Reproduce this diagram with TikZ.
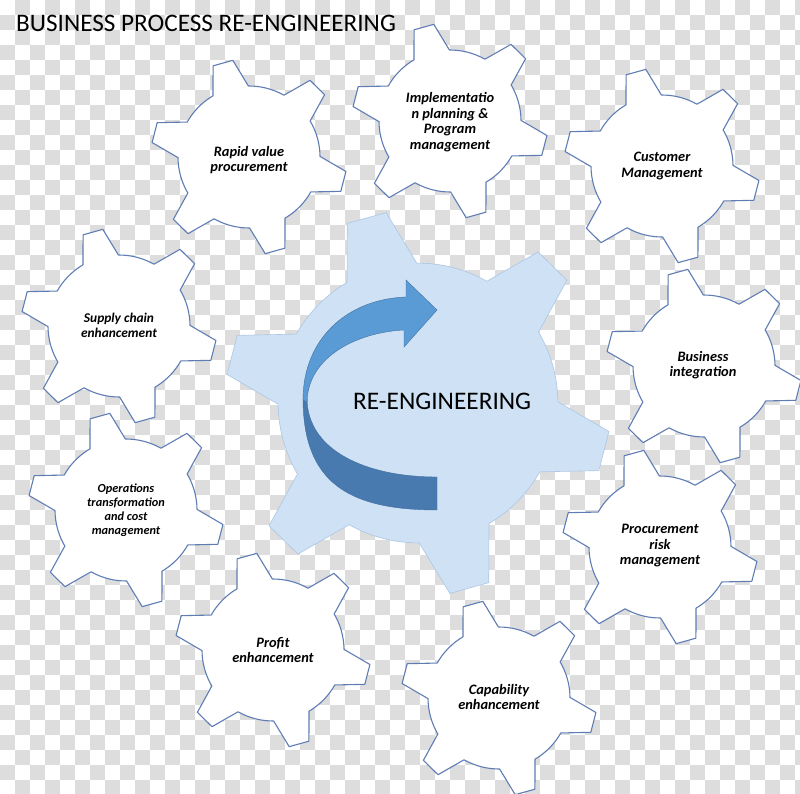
\documentclass[tikz,border=0pt]{standalone}
\usepackage{fontspec}
\setmainfont{Carlito}
\definecolor{chk}{RGB}{221,221,221}
\definecolor{gearline}{RGB}{95,125,180}
\definecolor{cogfill}{RGB}{207,225,244}
\definecolor{cogline}{RGB}{172,198,228}
\definecolor{arrowlight}{RGB}{91,155,213}
\definecolor{arrowdark}{RGB}{72,122,176}
\definecolor{arrowline}{RGB}{65,113,160}
\tikzset{
  pics/cog/.style={code={
    \path[pic actions] (90.5:71)
      \foreach \a in {105.5,165.5,225.5,285.5,345.5,405.5}{
        -- (\a-6:98) -- (\a+6:98) -- (\a+15:71)
        arc[start angle=\a+15, end angle=\a+45, radius=71]
      } -- cycle;
  }},
  smallcog/.style={draw=gearline, fill=white, line width=1.1pt, line join=round},
  bigcog/.style={draw=cogline, fill=cogfill, line width=0.6pt, scale=1.97},
  cogtext/.style={align=center, inner sep=0pt, font=\bfseries\itshape\fontsize{14.4}{15.5}\selectfont},
}
\begin{document}
\begin{tikzpicture}[x=1pt,y=1pt]
\useasboundingbox (0,-794) rectangle (800,0);
% transparent-background checkerboard
\begin{scope}
  \clip (0,-794) rectangle (800,0);
  \fill[white] (0,-794) rectangle (800,0);
  \foreach \i in {0,...,53}{
    \foreach \j in {0,...,52}{
      \pgfmathtruncatemacro\odd{mod(\i+\j,2)}
      \ifnum\odd=1 \fill[chk] (15*\i,-15*\j) rectangle ++(15,-15); \fi
    }
  }
\end{scope}
% central gear
\pic[bigcog] (cog0) at (418,-403) {cog};
% arrow
\fill[arrowdark, draw=arrowline, line width=0.4pt]
  (303,-398) .. controls (303,-480) and (345,-510) .. (437,-510)
  -- (437,-477) .. controls (365,-477) and (307,-450) .. (307,-398) -- cycle;
\fill[arrowlight, draw=arrowline, line width=0.4pt]
  (303,-400) .. controls (303,-338) and (348,-299) .. (406,-297)
  -- (406,-280) -- (437,-310) -- (404,-347) -- (404,-330)
  .. controls (360,-332) and (308,-355) .. (307,-402) -- cycle;
% small gears
\pic[smallcog] (cog1) at (249,-157) {cog};
\pic[smallcog] (cog2) at (450,-121) {cog};
\pic[smallcog] (cog3) at (662,-166) {cog};
\pic[smallcog] (cog4) at (119,-326) {cog};
\pic[smallcog] (cog5) at (704,-366) {cog};
\pic[smallcog] (cog6) at (126,-510) {cog};
\pic[smallcog] (cog7) at (660,-547) {cog};
\pic[smallcog] (cog8) at (273,-650) {cog};
\pic[smallcog] (cog9) at (499,-698) {cog};
% texts
\node[anchor=base west, inner sep=0pt, font=\fontsize{25.2}{30}\selectfont] (title) at (16,-32) {BUSINESS PROCESS RE-ENGINEERING};
\node[anchor=base west, inner sep=0pt, font=\fontsize{25.3}{28}\selectfont] (reeng) at (353,-409) {RE-ENGINEERING};
\node[cogtext] (rapid) at (249,-160) {Rapid value\\procurement};
\node[cogtext] (impl) at (450,-122) {Implementatio\\n planning \&\\Program\\management};
\node[cogtext] (cust) at (662,-166) {Customer\\Management};
\node[cogtext, font=\bfseries\itshape\fontsize{13.4}{15}\selectfont] (supply) at (119,-325) {Supply chain\\enhancement};
\node[cogtext] (busi) at (703,-365) {Business\\integration};
\node[cogtext, font=\bfseries\itshape\fontsize{12.3}{14}\selectfont] (ops) at (126,-510) {Operations\\transformation\\and cost\\management};
\node[cogtext] (proc) at (660,-546) {Procurement\\risk\\management};
\node[cogtext] (profit) at (273,-650) {Profit\\enhancement};
\node[cogtext] (cap) at (499,-697) {Capability\\enhancement};
\end{tikzpicture}
\end{document}
